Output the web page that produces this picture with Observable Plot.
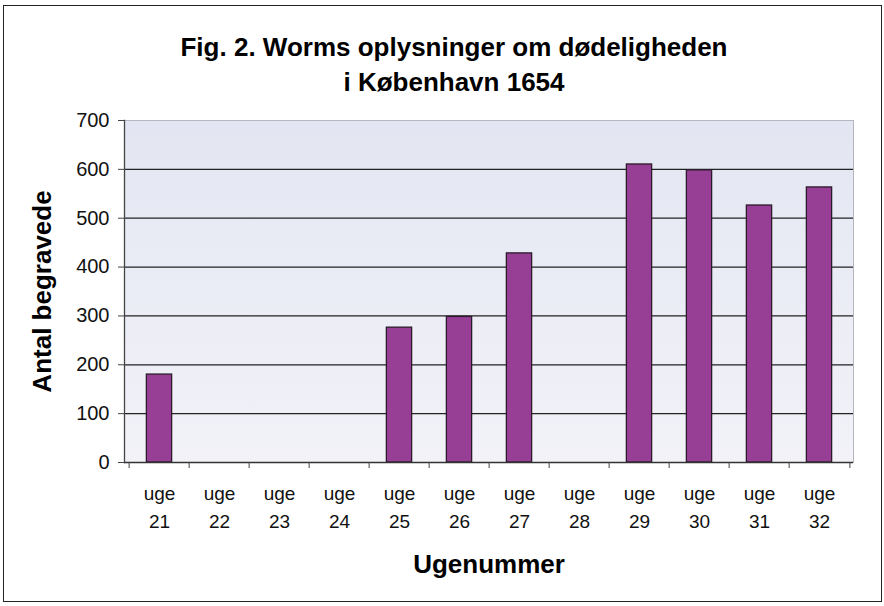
<!DOCTYPE html>
<html><head><meta charset="utf-8">
<script src="https://cdn.jsdelivr.net/npm/d3@7"></script>
<script src="https://cdn.jsdelivr.net/npm/@observablehq/plot@0.6"></script>
<style>
body{margin:0;background:#fff;font-family:"Liberation Sans",Arial,sans-serif;}
#wrap{position:relative;width:884px;height:606px;overflow:hidden;background:#fff}
#border{position:absolute;left:3px;top:5px;width:879px;height:597px;border:1px solid #222;box-sizing:border-box}
#title{position:absolute;left:24px;width:860px;top:30px;text-align:center;font-weight:bold;font-size:26px;line-height:35px;color:#000}
#chart{position:absolute;left:0;top:110px}
</style></head><body>
<div id="wrap"><div id="border"></div><div id="title">Fig. 2. Worms oplysninger om dødeligheden<br>i København 1654</div><div id="chart"></div></div>
<script>
const weeks = [21, 22, 23, 24, 25, 26, 27, 28, 29, 30, 31, 32];
const burials = [180, null, null, null, 276, 298, 428, null, 610, 598, 526, 563];
const yTicks = [0, 100, 200, 300, 400, 500, 600, 700];
const gridTicks = [100, 200, 300, 400, 500, 600];
const xTitle = "Ugenummer";
const yTitle = "Antal begravede";

const data = weeks.map((w, i) => ({week: w, value: burials[i]}));
const W = 884, H = 496, mL = 124, mR = 31, mT = 10, mB = 144;
const bw = (W - mL - mR) / weeks.length;
const inset = bw * 0.286;
const font = '"Liberation Sans", Arial, sans-serif';

const plot = Plot.plot({
  width: W, height: H,
  marginLeft: mL, marginRight: mR, marginTop: mT, marginBottom: mB,
  style: {fontFamily: font, fontSize: "19px", color: "#111", background: "transparent", overflow: "visible"},
  x: {type: "band", domain: weeks, padding: 0, label: null},
  y: {domain: [0, 700], label: null},
  marks: [
    Plot.frame({fill: "url(#plotbg)", stroke: "#b4b6be"}),
    Plot.gridY(gridTicks, {stroke: "#222", strokeOpacity: 1, strokeWidth: 1.3}),
    Plot.barY(data, {x: "week", y: "value", fill: "#973f95", stroke: "#2b1b2b", strokeWidth: 1.3, insetLeft: inset, insetRight: inset}),
    Plot.ruleY([0], {stroke: "#333", strokeWidth: 1.3}),
    Plot.frame({anchor: "left", stroke: "#444", strokeWidth: 1.3}),
    Plot.axisY(yTicks, {tickSize: 6, tickPadding: 9, fontSize: 20, label: null, stroke: "#444"}),
    Plot.axisX(weeks, {tickSize: 0, tickPadding: 18, tickFormat: d => "uge\n" + d, lineHeight: 1.45, fontSize: 19, label: null}),
    Plot.axisX(weeks, {tickSize: 6, tickFormat: () => "", dx: -bw / 2, label: null, stroke: "#444"}),
    Plot.axisX([weeks[weeks.length - 1]], {tickSize: 6, tickFormat: () => "", dx: bw / 2, label: null, stroke: "#444"}),
    Plot.text([xTitle], {text: d => d, frameAnchor: "bottom", dy: 110, fontWeight: "bold", fontSize: 26, fill: "#000"}),
    Plot.text([yTitle], {text: d => d, frameAnchor: "left", textAnchor: "middle", rotate: -90, dx: -82, fontWeight: "bold", fontSize: 26, fill: "#000"})
  ]
});

const svg = d3.select(plot);
const defs = svg.insert("defs", ":first-child");
const g = defs.append("linearGradient").attr("id", "plotbg").attr("x1", 0).attr("y1", 0).attr("x2", 0).attr("y2", 1);
g.append("stop").attr("offset", "0%").attr("stop-color", "#e3e6f2");
g.append("stop").attr("offset", "100%").attr("stop-color", "#f2f2f8");

document.getElementById("chart").appendChild(plot);
</script>
</body></html>
